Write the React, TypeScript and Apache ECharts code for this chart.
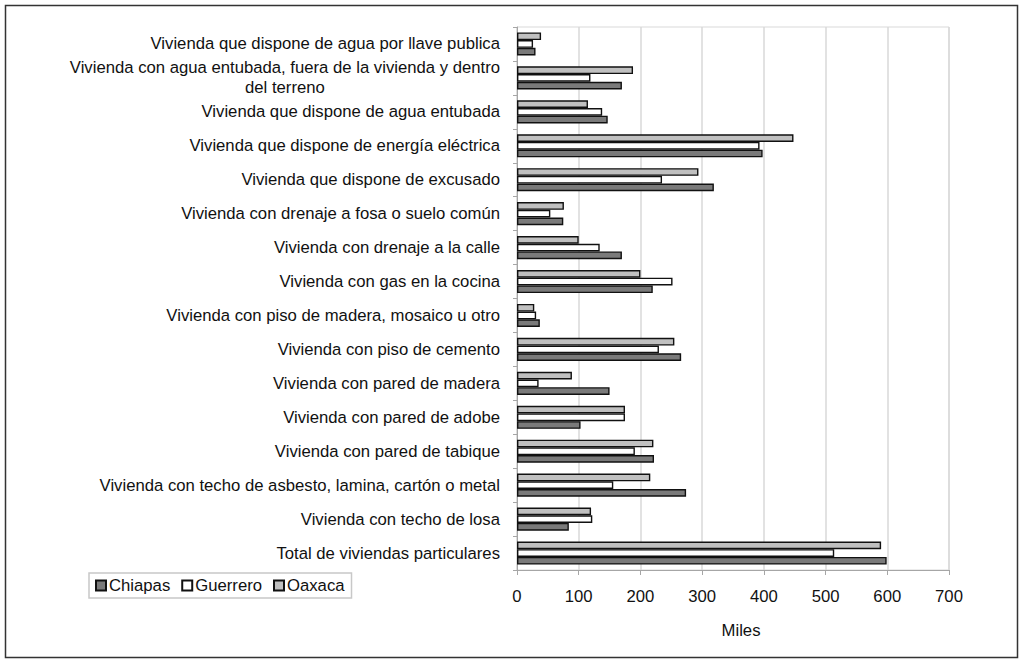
import React, { useEffect, useRef } from "react";
import * as echarts from "echarts";

const categories = [
  "Vivienda que dispone de agua por llave publica",
  "Vivienda con agua entubada, fuera de la vivienda y dentro\ndel terreno",
  "Vivienda que dispone de agua entubada",
  "Vivienda que dispone de energía eléctrica",
  "Vivienda que dispone de excusado",
  "Vivienda con drenaje a fosa o suelo común",
  "Vivienda con drenaje a la calle",
  "Vivienda con gas en la cocina",
  "Vivienda con piso de madera, mosaico u otro",
  "Vivienda con piso de cemento",
  "Vivienda con pared de madera",
  "Vivienda con pared de adobe",
  "Vivienda con pared de tabique",
  "Vivienda con techo de asbesto, lamina, cartón o metal",
  "Vivienda con techo de losa",
  "Total de viviendas particulares",
];

const chiapas = [30, 170, 147, 398, 319, 75, 170, 220, 37, 266, 150, 103, 222, 274, 84, 599];
const guerrero = [26, 119, 138, 393, 235, 54, 134, 252, 31, 230, 35, 175, 191, 156, 122, 514];
const oaxaca = [39, 188, 115, 448, 294, 76, 100, 200, 28, 255, 89, 175, 221, 216, 120, 590];

const xTicks = [0, 100, 200, 300, 400, 500, 600, 700];

const FONT = "'Liberation Sans', Arial, sans-serif";
const FS = 16.7;

export default function App() {
  const ref = useRef<HTMLDivElement>(null);
  useEffect(() => {
    document.body.style.margin = "0";
    const chart = echarts.init(ref.current!, null, { renderer: "svg" });
    const barStyle = (color: string) => ({
      color,
      borderColor: "#111",
      borderWidth: 1.4,
    });
    chart.setOption({
      animation: false,
      backgroundColor: "#fff",
      textStyle: { fontFamily: FONT },
      grid: { left: 517, right: 74, top: 27, bottom: 90, show: true, borderColor: "#d9d9d9", borderWidth: 1 },
      legend: {
        left: 89,
        top: 573,
        orient: "horizontal",
        icon: "rect",
        itemWidth: 10,
        itemHeight: 10,
        itemGap: 11,
        padding: [4, 7, 4, 6],
        borderColor: "#c8c8c8",
        borderWidth: 1.5,
        textStyle: { fontFamily: FONT, fontSize: FS, color: "#111", padding: [0, 0, 0, -2] },
        data: ["Chiapas", "Guerrero", "Oaxaca"],
      },
      xAxis: {
        type: "value",
        min: 0,
        max: 700,
        interval: 100,
        name: "Miles",
        nameLocation: "middle",
        nameGap: 52,
        nameTextStyle: { fontFamily: FONT, fontSize: FS, color: "#111", padding: [0, 0, 0, 16] },
        axisLine: { show: true, lineStyle: { color: "#a6a6a6", width: 1 } },
        axisTick: { show: true, length: 5, lineStyle: { color: "#a6a6a6" } },
        axisLabel: {
          fontFamily: FONT,
          fontSize: FS,
          color: "#111",
          margin: 18,
          formatter: (v: number) => (xTicks.includes(v) ? String(v) : ""),
        },
        splitLine: { show: true, lineStyle: { color: "#d9d9d9", width: 1.5 } },
      },
      yAxis: {
        type: "category",
        inverse: true,
        data: categories,
        axisLine: { show: true, lineStyle: { color: "#a6a6a6", width: 1 } },
        axisTick: { show: true, length: 4, lineStyle: { color: "#a6a6a6" } },
        axisLabel: {
          fontFamily: FONT,
          fontSize: FS,
          color: "#111",
          margin: 17,
          lineHeight: 20,
          formatter: (v: string) => {
            const parts = v.split("\n");
            if (parts.length === 1) return v;
            return parts[0] + "\n{c|" + parts[1] + "}";
          },
          rich: {
            c: { fontFamily: FONT, fontSize: FS, color: "#111", width: 430, align: "center", lineHeight: 20 },
          },
        },
        splitLine: { show: false },
      },
      series: [
        { name: "Oaxaca", type: "bar", data: oaxaca, barWidth: 7.7, barGap: "0%", itemStyle: barStyle("#c0c0c0") },
        { name: "Guerrero", type: "bar", data: guerrero, barWidth: 7.7, barGap: "0%", itemStyle: barStyle("#ffffff") },
        { name: "Chiapas", type: "bar", data: chiapas, barWidth: 7.7, barGap: "0%", itemStyle: barStyle("#7a7a7a") },
      ],
      graphic: [
        {
          type: "rect",
          silent: true,
          shape: { x: 5.5, y: 5.5, width: 1012, height: 652 },
          style: { fill: "none", stroke: "#333", lineWidth: 1.5 },
          z: 100,
        },
      ],
    });
    return () => chart.dispose();
  }, []);
  return <div ref={ref} style={{ width: 1023, height: 660 }} />;
}
